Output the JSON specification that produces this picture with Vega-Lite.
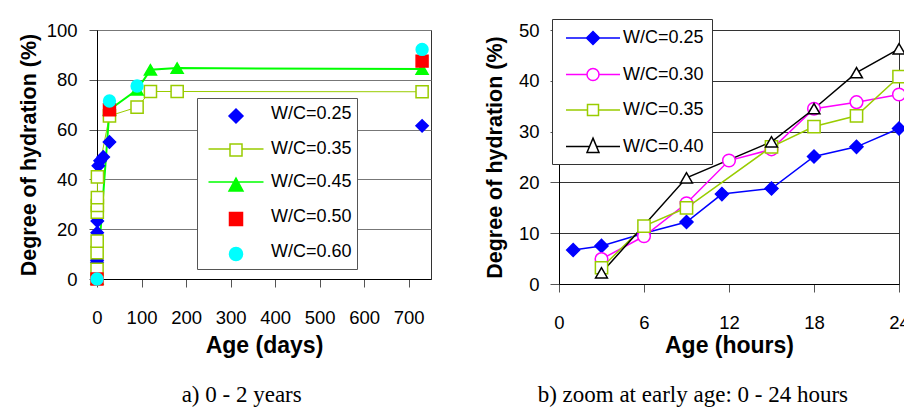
{
  "$schema": "https://vega.github.io/schema/vega-lite/v6.json",
  "background": "white",
  "padding": {"left": 17, "top": 18, "right": 0, "bottom": 0},
  "center": true,
  "spacing": 51,
  "config": {
    "font": "Liberation Sans",
    "view": {"stroke": "#333333", "strokeWidth": 1},
    "axis": {
      "labelFont": "Liberation Sans", "labelFontSize": 18.5, "labelColor": "#000000",
      "titleFont": "Liberation Sans", "titleFontWeight": "bold", "titleColor": "#000000",
      "domainColor": "#000000", "tickColor": "#555555", "labelFlush": false, "labelOverlap": false
    },
    "axisX": {"titleFontSize": 23},
    "axisY": {"titleFontSize": 21.5}
  },
  "datasets": {
    "days": [
      {"s": "W/C=0.25", "t": 0.04, "v": 6.7},
      {"s": "W/C=0.25", "t": 0.125, "v": 7.5},
      {"s": "W/C=0.25", "t": 0.5, "v": 18.6},
      {"s": "W/C=0.25", "t": 0.7, "v": 23.3},
      {"s": "W/C=0.25", "t": 3, "v": 45.5},
      {"s": "W/C=0.25", "t": 7, "v": 47.5},
      {"s": "W/C=0.25", "t": 14, "v": 49},
      {"s": "W/C=0.25", "t": 28, "v": 55},
      {"s": "W/C=0.25", "t": 730, "v": 61.5},
      {"s": "W/C=0.35", "t": 0.125, "v": 3.9},
      {"s": "W/C=0.35", "t": 0.25, "v": 10.6},
      {"s": "W/C=0.35", "t": 0.375, "v": 15.2},
      {"s": "W/C=0.35", "t": 0.625, "v": 26.8},
      {"s": "W/C=0.35", "t": 0.75, "v": 29.5},
      {"s": "W/C=0.35", "t": 0.875, "v": 32.7},
      {"s": "W/C=0.35", "t": 1, "v": 41},
      {"s": "W/C=0.35", "t": 28, "v": 65.5},
      {"s": "W/C=0.35", "t": 90, "v": 69},
      {"s": "W/C=0.35", "t": 120, "v": 75.3},
      {"s": "W/C=0.35", "t": 180, "v": 75.3},
      {"s": "W/C=0.35", "t": 730, "v": 75.2},
      {"s": "W/C=0.45", "t": 0, "v": 0},
      {"s": "W/C=0.45", "t": 28, "v": 68},
      {"s": "W/C=0.45", "t": 90, "v": 76},
      {"s": "W/C=0.45", "t": 120, "v": 84},
      {"s": "W/C=0.45", "t": 180, "v": 84.7},
      {"s": "W/C=0.45", "t": 730, "v": 84.3},
      {"s": "W/C=0.50", "t": 0, "v": 0},
      {"s": "W/C=0.50", "t": 28, "v": 68},
      {"s": "W/C=0.50", "t": 730, "v": 87.5},
      {"s": "W/C=0.60", "t": 0, "v": 0},
      {"s": "W/C=0.60", "t": 28, "v": 71.5},
      {"s": "W/C=0.60", "t": 90, "v": 77.5},
      {"s": "W/C=0.60", "t": 730, "v": 92.2}
    ],
    "hours": [
      {"s": "W/C=0.25", "t": 1, "v": 6.7},
      {"s": "W/C=0.25", "t": 3, "v": 7.5},
      {"s": "W/C=0.25", "t": 6, "v": 10},
      {"s": "W/C=0.25", "t": 9, "v": 12.2},
      {"s": "W/C=0.25", "t": 11.5, "v": 17.7},
      {"s": "W/C=0.25", "t": 15, "v": 18.8},
      {"s": "W/C=0.25", "t": 18, "v": 25.1},
      {"s": "W/C=0.25", "t": 21, "v": 27},
      {"s": "W/C=0.25", "t": 24, "v": 30.6},
      {"s": "W/C=0.30", "t": 3, "v": 4.9},
      {"s": "W/C=0.30", "t": 6, "v": 9.4},
      {"s": "W/C=0.30", "t": 9, "v": 15.9},
      {"s": "W/C=0.30", "t": 12, "v": 24.3},
      {"s": "W/C=0.30", "t": 15, "v": 26.5},
      {"s": "W/C=0.30", "t": 18, "v": 34.5},
      {"s": "W/C=0.30", "t": 21, "v": 35.8},
      {"s": "W/C=0.30", "t": 24, "v": 37.3},
      {"s": "W/C=0.35", "t": 3, "v": 3.2},
      {"s": "W/C=0.35", "t": 6, "v": 11.4},
      {"s": "W/C=0.35", "t": 9, "v": 15},
      {"s": "W/C=0.35", "t": 15, "v": 27},
      {"s": "W/C=0.35", "t": 18, "v": 31},
      {"s": "W/C=0.35", "t": 21, "v": 33.1},
      {"s": "W/C=0.35", "t": 24, "v": 40.8},
      {"s": "W/C=0.40", "t": 3, "v": 2.2},
      {"s": "W/C=0.40", "t": 9, "v": 20.9},
      {"s": "W/C=0.40", "t": 15, "v": 28},
      {"s": "W/C=0.40", "t": 18, "v": 34.5},
      {"s": "W/C=0.40", "t": 21, "v": 41.6},
      {"s": "W/C=0.40", "t": 24, "v": 46.3}
    ]
  },
  "hconcat": [
    {
      "width": 334,
      "height": 249,
      "title": {"text": "a) 0 - 2 years", "orient": "bottom", "frame": "bounds", "anchor": "middle", "font": "Liberation Serif", "fontSize": 23, "fontWeight": "normal", "color": "#000000", "offset": 26, "dx": 17},
      "data": {"name": "days"},
      "resolve": {"scale": {"shape": "independent", "fill": "independent", "stroke": "independent", "size": "independent"}},
      "encoding": {
        "x": {"field": "t", "type": "quantitative", "scale": {"domain": [0, 750], "nice": false, "zero": false},
          "axis": {"title": "Age (days)", "values": [0, 100, 200, 300, 400, 500, 600, 700], "grid": false, "tickSize": 8, "labelPadding": 21, "titlePadding": 8}},
        "y": {"field": "v", "type": "quantitative", "scale": {"domain": [0, 100], "nice": false},
          "axis": {"title": "Degree of hydration (%)", "values": [0, 20, 40, 60, 80, 100], "grid": true, "gridColor": "#777777", "tickSize": 8, "labelPadding": 12, "titlePadding": 6}}
      },
      "layer": [
        {
          "transform": [{"filter": "datum.s == 'W/C=0.35'"}],
          "mark": {"type": "line", "strokeWidth": 1},
          "encoding": {"stroke": {"field": "s", "type": "nominal", "scale": {"domain": ["W/C=0.25", "W/C=0.35", "W/C=0.45", "W/C=0.50", "W/C=0.60"], "range": ["#0000FF", "#99CC00", "#00FF00", "#FF0000", "#00FFFF"]}, "legend": null}}
        },
        {
          "transform": [{"filter": "datum.s == 'W/C=0.45'"}],
          "mark": {"type": "line", "strokeWidth": 2},
          "encoding": {"stroke": {"field": "s", "type": "nominal", "scale": {"domain": ["W/C=0.25", "W/C=0.35", "W/C=0.45", "W/C=0.50", "W/C=0.60"], "range": ["#0000FF", "#99CC00", "#00FF00", "#FF0000", "#00FFFF"]}, "legend": null}}
        },
        {
          "mark": {"type": "point", "filled": true, "opacity": 1, "strokeWidth": 1.5},
          "encoding": {
            "shape": {"field": "s", "type": "nominal", "scale": {"domain": ["W/C=0.25", "W/C=0.35", "W/C=0.45", "W/C=0.50", "W/C=0.60"], "range": ["diamond", "square", "triangle-up", "square", "circle"]}, "legend": null},
            "fill": {"field": "s", "type": "nominal", "scale": {"domain": ["W/C=0.25", "W/C=0.35", "W/C=0.45", "W/C=0.50", "W/C=0.60"], "range": ["#0000FF", "#FFFFFF", "#00FF00", "#FF0000", "#00FFFF"]}, "legend": null},
            "stroke": {"field": "s", "type": "nominal", "scale": {"domain": ["W/C=0.25", "W/C=0.35", "W/C=0.45", "W/C=0.50", "W/C=0.60"], "range": ["#0000FF", "#99CC00", "#00FF00", "#FF0000", "#00FFFF"]}, "legend": null},
            "size": {"field": "s", "type": "nominal", "scale": {"domain": ["W/C=0.25", "W/C=0.35", "W/C=0.45", "W/C=0.50", "W/C=0.60"], "range": [150, 140, 150, 169, 169]}, "legend": null}
          }
        },
        {
          "data": {"values": []},
          "mark": {"type": "point", "filled": true, "opacity": 1, "strokeWidth": 1.5},
          "encoding": {
            "x": null, "y": null,
            "shape": {"field": "s", "type": "nominal", "scale": {"domain": ["W/C=0.25", "W/C=0.35", "W/C=0.45", "W/C=0.50", "W/C=0.60"], "range": ["M0,-0.5L0.7,0.2L0,0.9L-0.7,0.2Z", "M-2.75,0H-0.6M0.6,0H2.75M-0.6,-0.5H0.6V0.7H-0.6Z", "M-2.75,0H2.75M0,-0.4L0.7,0.9H-0.7Z", "M-0.65,-0.45H0.65V0.85H-0.65Z", "M-0.65,0.2A0.65,0.65,0,1,1,0.65,0.2A0.65,0.65,0,1,1,-0.65,0.2Z"]},
              "legend": {"title": null, "orient": "none", "legendX": 100, "legendY": 68, "strokeColor": "#555555", "fillColor": "#FFFFFF", "padding": 5, "symbolSize": 400, "symbolOffset": 23, "symbolStrokeWidth": 1.5, "symbolOpacity": 1, "labelFont": "Liberation Sans", "labelFontSize": 18, "labelColor": "#000000", "labelOffset": 24, "rowPadding": 12}},
            "fill": {"field": "s", "type": "nominal", "scale": {"domain": ["W/C=0.25", "W/C=0.35", "W/C=0.45", "W/C=0.50", "W/C=0.60"], "range": ["#0000FF", "#FFFFFF", "#00FF00", "#FF0000", "#00FFFF"]},
              "legend": {"title": null, "orient": "none", "legendX": 100, "legendY": 68}},
            "stroke": {"field": "s", "type": "nominal", "scale": {"domain": ["W/C=0.25", "W/C=0.35", "W/C=0.45", "W/C=0.50", "W/C=0.60"], "range": ["#0000FF", "#99CC00", "#00FF00", "#FF0000", "#00FFFF"]},
              "legend": {"title": null, "orient": "none", "legendX": 100, "legendY": 68}}
          }
        }
      ]
    },
    {
      "width": 340,
      "height": 254,
      "title": {"text": "b) zoom at early age: 0 - 24 hours", "orient": "bottom", "frame": "bounds", "anchor": "middle", "font": "Liberation Serif", "fontSize": 23, "fontWeight": "normal", "color": "#000000", "offset": 26, "dx": -4},
      "data": {"name": "hours"},
      "resolve": {"scale": {"shape": "independent", "fill": "independent", "stroke": "independent", "size": "independent"}},
      "encoding": {
        "x": {"field": "t", "type": "quantitative", "scale": {"domain": [0, 24], "nice": false, "zero": false},
          "axis": {"title": "Age (hours)", "values": [0, 6, 12, 18, 24], "grid": false, "tickSize": 8, "labelPadding": 21, "titlePadding": 3}},
        "y": {"field": "v", "type": "quantitative", "scale": {"domain": [0, 50], "nice": false},
          "axis": {"title": "Degree of hydration (%)", "values": [0, 10, 20, 30, 40, 50], "grid": true, "gridColor": "#333333", "tickSize": 9, "labelPadding": 11, "titlePadding": 12}}
      },
      "layer": [
        {
          "mark": {"type": "line", "strokeWidth": 1.5},
          "encoding": {"stroke": {"field": "s", "type": "nominal", "scale": {"domain": ["W/C=0.25", "W/C=0.30", "W/C=0.35", "W/C=0.40"], "range": ["#0000FF", "#FF00FF", "#99CC00", "#000000"]}, "legend": null}}
        },
        {
          "mark": {"type": "point", "filled": true, "opacity": 1, "strokeWidth": 1.5},
          "encoding": {
            "shape": {"field": "s", "type": "nominal", "scale": {"domain": ["W/C=0.25", "W/C=0.30", "W/C=0.35", "W/C=0.40"], "range": ["diamond", "circle", "square", "triangle-up"]}, "legend": null},
            "fill": {"field": "s", "type": "nominal", "scale": {"domain": ["W/C=0.25", "W/C=0.30", "W/C=0.35", "W/C=0.40"], "range": ["#0000FF", "#FFFFFF", "#FFFFFF", "#FFFFFF"]}, "legend": null},
            "stroke": {"field": "s", "type": "nominal", "scale": {"domain": ["W/C=0.25", "W/C=0.30", "W/C=0.35", "W/C=0.40"], "range": ["#0000FF", "#FF00FF", "#99CC00", "#000000"]}, "legend": null},
            "size": {"field": "s", "type": "nominal", "scale": {"domain": ["W/C=0.25", "W/C=0.30", "W/C=0.35", "W/C=0.40"], "range": [169, 140, 121, 140]}, "legend": null}
          }
        },
        {
          "data": {"values": []},
          "mark": {"type": "point", "filled": true, "opacity": 1, "strokeWidth": 1.5},
          "encoding": {
            "x": null, "y": null,
            "shape": {"field": "s", "type": "nominal", "scale": {"domain": ["W/C=0.25", "W/C=0.30", "W/C=0.35", "W/C=0.40"], "range": ["M-2.7,0H2.7M0,-0.65L0.65,0L0,0.65L-0.65,0Z", "M-2.7,0H-0.6M0.6,0H2.7M-0.6,0A0.6,0.6,0,1,1,0.6,0A0.6,0.6,0,1,1,-0.6,0Z", "M-2.7,0H-0.55M0.55,0H2.7M-0.55,-0.55H0.55V0.55H-0.55Z", "M-2.7,0H-0.35M0.35,0H2.7M0,-0.84L0.6,0.6H-0.6Z"]},
              "legend": {"title": null, "orient": "none", "legendX": -7, "legendY": -11, "strokeColor": "#333333", "fillColor": "#FFFFFF", "padding": 8, "symbolSize": 400, "symbolOffset": 22, "symbolStrokeWidth": 1.5, "symbolOpacity": 1, "labelFont": "Liberation Sans", "labelFontSize": 18, "labelColor": "#000000", "labelOffset": 19, "rowPadding": 15.5}},
            "fill": {"field": "s", "type": "nominal", "scale": {"domain": ["W/C=0.25", "W/C=0.30", "W/C=0.35", "W/C=0.40"], "range": ["#0000FF", "#FFFFFF", "#FFFFFF", "#FFFFFF"]},
              "legend": {"title": null, "orient": "none", "legendX": -7, "legendY": -11}},
            "stroke": {"field": "s", "type": "nominal", "scale": {"domain": ["W/C=0.25", "W/C=0.30", "W/C=0.35", "W/C=0.40"], "range": ["#0000FF", "#FF00FF", "#99CC00", "#000000"]},
              "legend": {"title": null, "orient": "none", "legendX": -7, "legendY": -11}}
          }
        }
      ]
    }
  ]
}
